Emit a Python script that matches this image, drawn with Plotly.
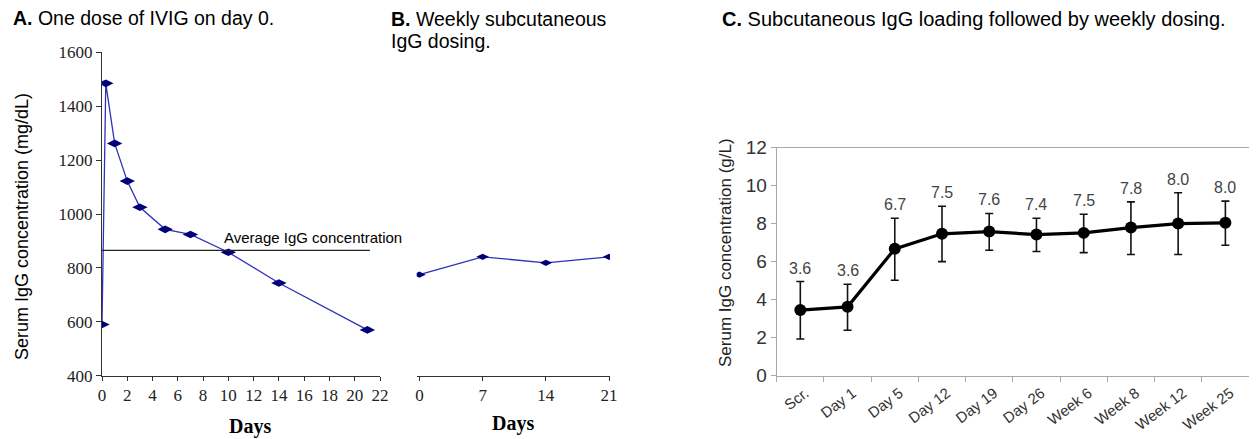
import plotly.graph_objects as go

W, H = 1257, 439

# Panel A data: one dose of IVIG
a_days = [0, 0.3, 1, 2, 3, 5, 7, 10, 14, 21]
a_igg = [590, 1485, 1262, 1122, 1025, 943, 924, 858, 744, 570]
avg_days = [0, 21.2]
avg_igg = [865, 865]

# Panel B data: weekly subcutaneous dosing
b_days = [0, 7, 14, 21]
b_igg = [775, 841, 819, 841]

# Panel C data: loading followed by weekly dosing
c_cats = ["Scr.", "Day 1", "Day 5", "Day 12", "Day 19", "Day 26",
          "Week 6", "Week 8", "Week 12", "Week 25"]
c_mean = [3.45, 3.62, 6.67, 7.46, 7.58, 7.42, 7.51, 7.79, 8.0, 8.04]
c_err_plus = [1.5, 1.19, 1.61, 1.45, 0.95, 0.86, 0.98, 1.35, 1.62, 1.14]
c_err_minus = [1.52, 1.23, 1.65, 1.46, 0.98, 0.89, 1.04, 1.42, 1.63, 1.18]
c_labels = ["3.6", "3.6", "6.7", "7.5", "7.6", "7.4", "7.5", "7.8", "8.0", "8.0"]

OFF = 8  # page body margin


def px(x):
    return (x - OFF) / W


def py(y):
    return 1 - (y - OFF) / H


SANS = "Liberation Sans, Arial, sans-serif"
SERIF = "Liberation Serif, Times New Roman, serif"
NAVY = "#00007a"
LINEBLUE = "#3030b8"

fig = go.Figure()

fig.add_trace(go.Scatter(
    x=a_days, y=a_igg, mode="lines+markers", xaxis="x", yaxis="y",
    line=dict(color=LINEBLUE, width=1.3),
    marker=dict(symbol="diamond-wide", size=11, color=NAVY),
    showlegend=False))
fig.add_trace(go.Scatter(
    x=avg_days, y=avg_igg, mode="lines", xaxis="x", yaxis="y",
    line=dict(color="#222222", width=1.2), showlegend=False))

fig.add_trace(go.Scatter(
    x=b_days, y=b_igg, mode="lines+markers", xaxis="x2", yaxis="y2",
    line=dict(color=LINEBLUE, width=1.3),
    marker=dict(symbol="diamond-wide", size=9, color=NAVY),
    showlegend=False))

fig.add_trace(go.Scatter(
    x=c_cats, y=c_mean, mode="lines+markers", xaxis="x3", yaxis="y3",
    line=dict(color="black", width=3.2),
    marker=dict(symbol="circle", size=12, color="black"),
    error_y=dict(type="data", symmetric=False, array=c_err_plus,
                 arrayminus=c_err_minus, color="#111111", thickness=1.6, width=4),
    showlegend=False))

yA = [py(375.7), py(52.3)]

fig.update_layout(
    width=W, height=H,
    margin=dict(l=0, r=0, t=0, b=0, pad=0, autoexpand=False),
    paper_bgcolor="white", plot_bgcolor="white",
    xaxis=dict(domain=[px(102), px(380)], range=[0, 22], anchor="y", automargin=False,
               tickvals=list(range(0, 23, 2)), showgrid=False, zeroline=False,
               showline=True, linecolor="#333333", linewidth=1.2,
               ticks="outside", ticklen=4, tickcolor="#333333",
               tickfont=dict(family=SERIF, size=17, color="#222222")),
    yaxis=dict(domain=yA, range=[400, 1600], anchor="x", automargin=False,
               tickvals=list(range(400, 1601, 200)), showgrid=False, zeroline=False,
               showline=True, linecolor="#333333", linewidth=1.2,
               ticks="outside", ticklen=5, tickcolor="#333333",
               tickfont=dict(family=SERIF, size=17, color="#222222")),
    xaxis2=dict(domain=[px(416.7), px(610)], range=[-0.3, 21.1], anchor="y2", automargin=False,
                tickvals=b_days, showgrid=False, zeroline=False,
                showline=True, linecolor="#333333", linewidth=1.2,
                ticks="outside", ticklen=4, tickcolor="#333333",
                tickfont=dict(family=SERIF, size=17, color="#222222")),
    yaxis2=dict(domain=yA, range=[400, 1600], anchor="x2", visible=False, automargin=False),
    xaxis3=dict(domain=[px(776.7), px(1249)], range=[-0.5, 9.5], anchor="y3", automargin=False,
                type="category", showgrid=False, zeroline=False,
                showline=True, mirror=True, linecolor="#a8a8a8", linewidth=1.2,
                ticks="outside", tickson="boundaries", ticklen=5, tickcolor="#a8a8a8",
                tickangle=-37, ticklabelshift=5, ticklabelstandoff=2,
                tickfont=dict(family=SANS, size=15, color="#333333")),
    yaxis3=dict(domain=[py(375.7), py(147.5)], range=[0, 12], anchor="x3", automargin=False,
                tickvals=list(range(0, 13, 2)), showgrid=False, zeroline=False,
                showline=True, mirror=True, linecolor="#a8a8a8", linewidth=1.2,
                ticks="outside", ticklen=5, tickcolor="#a8a8a8",
                tickfont=dict(family=SANS, size=19, color="#333333")),
)

ann = []
# Panel titles
TFONT = dict(family=SANS, size=19.5, color="black")
ann.append(dict(text="<b>A.</b> One dose of IVIG on day 0.", x=px(11), y=py(18),
                xref="paper", yref="paper", xanchor="left", yanchor="middle",
                showarrow=False, font=TFONT))
ann.append(dict(text="<b>B.</b> Weekly subcutaneous", x=px(389), y=py(18.5),
                xref="paper", yref="paper", xanchor="left", yanchor="middle",
                showarrow=False, font=TFONT))
ann.append(dict(text="IgG dosing.", x=px(389), y=py(41),
                xref="paper", yref="paper", xanchor="left", yanchor="middle",
                showarrow=False, font=TFONT))
ann.append(dict(text="<b>C.</b> Subcutaneous IgG loading followed by weekly dosing.",
                x=px(720), y=py(19), xref="paper", yref="paper",
                xanchor="left", yanchor="middle",
                showarrow=False, font=dict(family=SANS, size=20, color="black")))
# Axis titles
ann.append(dict(text="Serum IgG concentration (mg/dL)", x=px(22), y=py(227),
                xref="paper", yref="paper", xanchor="center", yanchor="middle",
                textangle=-90, showarrow=False,
                font=dict(family=SANS, size=18, color="black")))
ann.append(dict(text="<b>Days</b>", x=px(250), y=py(426), xref="paper", yref="paper",
                xanchor="center", yanchor="middle",
                showarrow=False, font=dict(family=SERIF, size=20, color="black")))
ann.append(dict(text="<b>Days</b>", x=px(513), y=py(423), xref="paper", yref="paper",
                xanchor="center", yanchor="middle",
                showarrow=False, font=dict(family=SERIF, size=20, color="black")))
ann.append(dict(text="Serum IgG concentration (g/L)", x=px(725), y=py(253),
                xref="paper", yref="paper", xanchor="center", yanchor="middle",
                textangle=-90, showarrow=False,
                font=dict(family=SANS, size=17, color="#222222")))
# Average line label
ann.append(dict(text="Average IgG concentration", x=9.5, y=865, xref="x", yref="y",
                xanchor="left", yanchor="bottom", yshift=2, showarrow=False,
                font=dict(family=SANS, size=15, color="black")))
# Panel C value labels
for cat, m, e, lab in zip(c_cats, c_mean, c_err_plus, c_labels):
    ann.append(dict(text=lab, x=cat, y=m + e, xref="x3", yref="y3",
                    xanchor="center", yanchor="bottom", yshift=3, showarrow=False,
                    font=dict(family=SANS, size=16, color="#444444")))

fig.update_layout(annotations=ann)

fig.write_html("out.html")
